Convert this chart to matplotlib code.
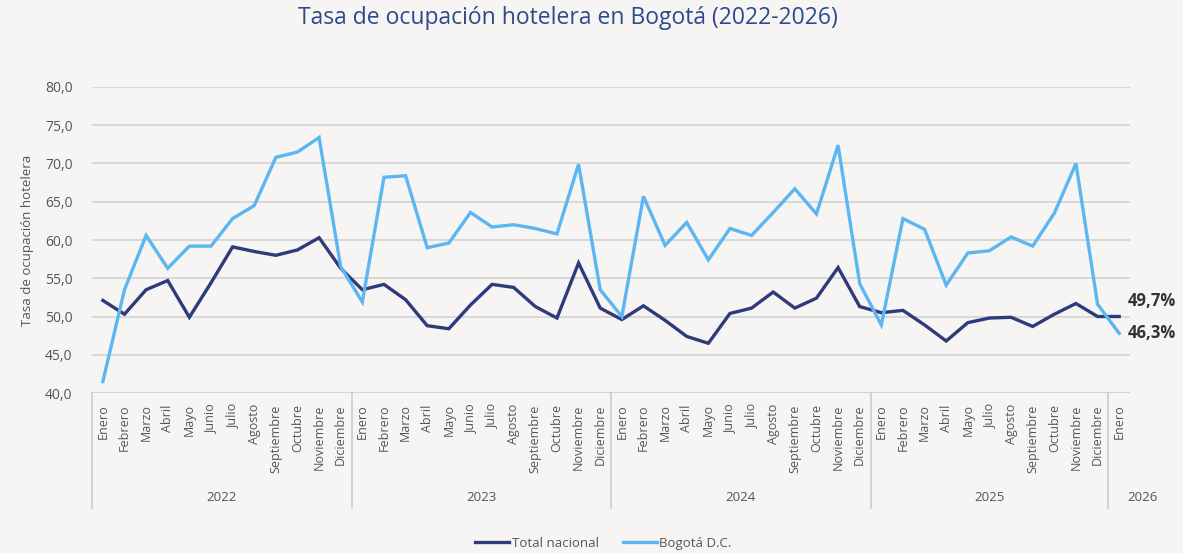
#!/usr/bin/env python3

import matplotlib.pyplot as plt
import matplotlib.transforms as mtransforms
from matplotlib.ticker import FuncFormatter

OUTPUT_FILE = "out.png"

MONTHS = ["Enero", "Febrero", "Marzo", "Abril", "Mayo", "Junio", "Julio",
          "Agosto", "Septiembre", "Octubre", "Noviembre", "Diciembre"]
# 2025 in the source chart has no "Junio" label
MONTHS_2025 = ["Enero", "Febrero", "Marzo", "Abril", "Mayo", "Julio",
               "Agosto", "Septiembre", "Octubre", "Noviembre", "Diciembre"]

years = ["2022", "2023", "2024", "2025", "2026"]
year_months = [MONTHS, MONTHS, MONTHS, MONTHS_2025, ["Enero"]]

total_nacional = [
    52.1, 50.3, 53.5, 54.7, 49.9, 54.4, 59.1, 58.5, 58.0, 58.7, 60.3, 56.3,
    53.5, 54.2, 52.2, 48.8, 48.4, 51.5, 54.2, 53.8, 51.3, 49.8, 57.0, 51.1,
    49.6, 51.4, 49.5, 47.4, 46.5, 50.4, 51.1, 53.2, 51.1, 52.4, 56.4, 51.3,
    50.5, 50.8, 48.9, 46.8, 49.2, 49.8, 49.9, 48.7, 50.3, 51.7, 50.0,
    50.0,
]
bogota = [
    41.5, 53.5, 60.6, 56.3, 59.2, 59.2, 62.8, 64.5, 70.8, 71.5, 73.4, 56.5,
    51.9, 68.2, 68.4, 59.0, 59.6, 63.6, 61.7, 62.0, 61.5, 60.8, 69.9, 53.5,
    50.0, 65.7, 59.3, 62.3, 57.4, 61.5, 60.6, 63.6, 66.7, 63.4, 72.4, 54.3,
    48.9, 62.8, 61.4, 54.1, 58.3, 58.6, 60.4, 59.2, 63.5, 70.0, 51.6,
    47.8,
]
end_labels = ["49,7%", "46,3%"]

DARK = "#2e3a7a"
LIGHT = "#5cb6f2"
GREY = "#555555"
BG = "#f6f5f3"

month_labels = [m for ms in year_months for m in ms]
n = len(month_labels)
xs = [i + 0.5 for i in range(n)]

fig = plt.figure(figsize=(11.83, 5.53), dpi=100, facecolor=BG)
plt.rcParams["font.family"] = ["Open Sans", "DejaVu Sans"]
ax = fig.add_axes([0.0778, 0.2893, 0.8774, 0.5534])
ax.set_facecolor(BG)

ax.plot(xs, total_nacional, color=DARK, lw=2.4, label="Total nacional",
        solid_joinstyle="miter")
ax.plot(xs, bogota, color=LIGHT, lw=2.4, label="Bogotá D.C.",
        solid_joinstyle="miter")

ax.set_xlim(0, n)
ax.set_ylim(40, 80)
ax.set_yticks(range(40, 81, 5))
ax.yaxis.set_major_formatter(FuncFormatter(lambda v, p: f"{v:.1f}".replace(".", ",")))
ax.grid(axis="y", color="#d3d3d3", lw=1.2)
ax.set_axisbelow(True)
for s in ax.spines.values():
    s.set_visible(False)
ax.axhline(40, color="#cccccc", lw=1.2, zorder=0)

ax.set_xticks(xs)
ax.set_xticklabels(month_labels, rotation=90, va="top", ha="center")
ax.tick_params(axis="x", length=0, pad=8, labelsize=9, labelcolor=GREY)
ax.tick_params(axis="y", length=0, pad=14, labelsize=10, labelcolor=GREY)
ax.set_ylabel("Tasa de ocupación hotelera", fontsize=9.5, color=GREY, labelpad=8)

# year groups under the month labels
trans = mtransforms.blended_transform_factory(ax.transData, ax.transAxes)
start = 0
for i, (year, ms) in enumerate(zip(years, year_months)):
    end = start + len(ms)
    ax.plot([start, start], [0, -0.375], color="#cccccc", lw=1.2,
            transform=trans, clip_on=False)
    cx = (start + end) / 2 if i < len(years) - 1 else end + 0.6
    ax.text(cx, -0.34, year, transform=trans, ha="center", va="center",
            fontsize=9.5, color=GREY)
    start = end

# values at the end of the lines
ax.annotate(end_labels[0], (xs[-1], total_nacional[-1]), xytext=(6, 11),
            textcoords="offset points", fontsize=12, fontweight="bold",
            color="#333333", va="center", annotation_clip=False)
ax.annotate(end_labels[1], (xs[-1], bogota[-1]), xytext=(6, 0),
            textcoords="offset points", fontsize=12, fontweight="bold",
            color="#333333", va="center", annotation_clip=False)

fig.text(0.48, 0.967, "Tasa de ocupación hotelera en Bogotá (2022-2026)",
         ha="center", va="center", fontsize=16.5, color="#2d4a8a")

fig.legend(loc="center", bbox_to_anchor=(0.51, 0.017), ncol=2, frameon=False,
           fontsize=9.5, handlelength=2.6, columnspacing=1.8, handletextpad=0.2,
           labelcolor=GREY)

fig.savefig(OUTPUT_FILE, dpi=100, facecolor=BG)
